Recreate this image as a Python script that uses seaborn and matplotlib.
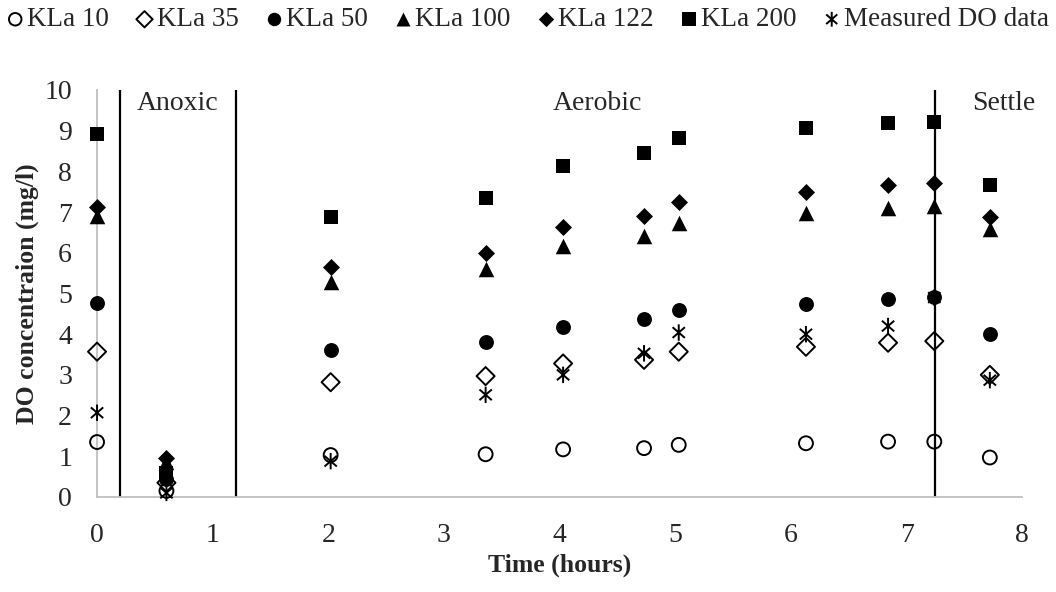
import numpy as np
import pandas as pd
import matplotlib
matplotlib.use("Agg")
import matplotlib.pyplot as plt
from matplotlib.path import Path
import seaborn as sns

# Sampling times (hours)
time_h = [0.0, 0.6, 2.02, 3.36, 4.03, 4.73, 5.03, 6.13, 6.84, 7.24, 7.72]

# Dissolved oxygen (mg/l) for each KLa setting and the measured data
kla_10 = [1.35, 0.15, 1.03, 1.05, 1.17, 1.20, 1.28, 1.32, 1.36, 1.36, 0.97]
kla_35 = [3.57, 0.35, 2.82, 2.97, 3.28, 3.37, 3.57, 3.69, 3.79, 3.83, 3.00]
kla_50 = [4.76, 0.45, 3.60, 3.81, 4.18, 4.37, 4.59, 4.75, 4.86, 4.91, 4.00]
kla_100 = [6.90, 0.85, 5.29, 5.59, 6.17, 6.42, 6.72, 6.97, 7.11, 7.15, 6.58]
kla_122 = [7.12, 0.95, 5.66, 6.00, 6.63, 6.90, 7.26, 7.50, 7.67, 7.71, 6.87]
kla_200 = [8.93, 0.60, 6.89, 7.35, 8.13, 8.45, 8.82, 9.06, 9.20, 9.22, 7.66]
measured = [2.07, 0.10, 0.88, 2.51, 3.00, 3.53, 4.04, 4.00, 4.20, 4.90, 2.87]

series_names = ["KLa 10", "KLa 35", "KLa 50", "KLa 100", "KLa 122", "KLa 200",
                "Measured DO data"]
series_values = [kla_10, kla_35, kla_50, kla_100, kla_122, kla_200, measured]

# Phase boundaries (hours) and phase labels
phase_bounds = [0.2, 1.2, 7.25]
phase_labels = ["Anoxic", "Aerobic", "Settle"]
phase_label_x = [0.70, 4.33, 7.84]

x_ticks = [0, 1, 2, 3, 4, 5, 6, 7, 8]
y_ticks = [0, 1, 2, 3, 4, 5, 6, 7, 8, 9, 10]

df = pd.DataFrame({"time": time_h})
for name, vals in zip(series_names, series_values):
    df[name] = vals
long = df.melt(id_vars="time", var_name="series", value_name="do")

sns.set_style("white")
plt.rcParams["font.family"] = ["Liberation Serif", "DejaVu Serif"]

# six-armed asterisk: vertical stroke plus an X
ast_verts = [(0, -1), (0, 1), (-0.75, -0.65), (0.75, 0.65), (-0.75, 0.65), (0.75, -0.65)]
ast_codes = [Path.MOVETO, Path.LINETO] * 3
asterisk = Path(ast_verts, ast_codes)

styles = {
    "KLa 10": dict(marker="o", s=100, facecolor="none", edgecolor="black", linewidth=1.4),
    "KLa 35": dict(marker="D", s=85, facecolor="none", edgecolor="black", linewidth=1.4),
    "KLa 50": dict(marker="o", s=115, facecolor="black", edgecolor="black", linewidth=0),
    "KLa 100": dict(marker="^", s=125, facecolor="black", edgecolor="black", linewidth=0),
    "KLa 122": dict(marker="D", s=75, facecolor="black", edgecolor="black", linewidth=0),
    "KLa 200": dict(marker="s", s=115, facecolor="black", edgecolor="black", linewidth=0),
    "Measured DO data": dict(marker=asterisk, s=140, facecolor="none", edgecolor="black",
                             linewidth=1.4),
}

fig = plt.figure(figsize=(10.56, 5.92), dpi=100)
ax = fig.add_axes([0.0919, 0.1605, 0.8761, 0.6875])

for bx in phase_bounds:
    ax.axvline(bx, color="black", linewidth=1.6, zorder=1)

for name in series_names:
    sub = long[long["series"] == name]
    sns.scatterplot(data=sub, x="time", y="do", ax=ax, label=name, zorder=3,
                    legend=False, clip_on=False, **styles[name])

for lbl, lx in zip(phase_labels, phase_label_x):
    ax.text(lx, 9.68, lbl, ha="center", va="center", fontsize=20)

ax.set_xlim(0, 8)
ax.set_ylim(0, 10)
ax.set_xticks(x_ticks)
ax.set_yticks(y_ticks)
ax.tick_params(axis="both", length=0, labelsize=20)
ax.tick_params(axis="y", pad=18)
ax.tick_params(axis="x", pad=18.5)
for side in ["top", "right"]:
    ax.spines[side].set_visible(False)
for side in ["left", "bottom"]:
    ax.spines[side].set_color("#BFBFBF")
    ax.spines[side].set_linewidth(1.3)

ax.set_xlabel("Time (hours)", fontsize=18.5, fontweight="bold", labelpad=4)
ax.set_ylabel("DO concentraion (mg/l)", fontsize=18.5, fontweight="bold", labelpad=4)

handles, labels = ax.get_legend_handles_labels()
fig.legend(handles, labels, loc="upper center", bbox_to_anchor=(0.5, 1.015), ncol=7,
           frameon=False, fontsize=19.5, handletextpad=0.15, columnspacing=1.0,
           handlelength=0.6, borderaxespad=0.2, markerscale=0.9)

fig.savefig("out.png", dpi=100)
